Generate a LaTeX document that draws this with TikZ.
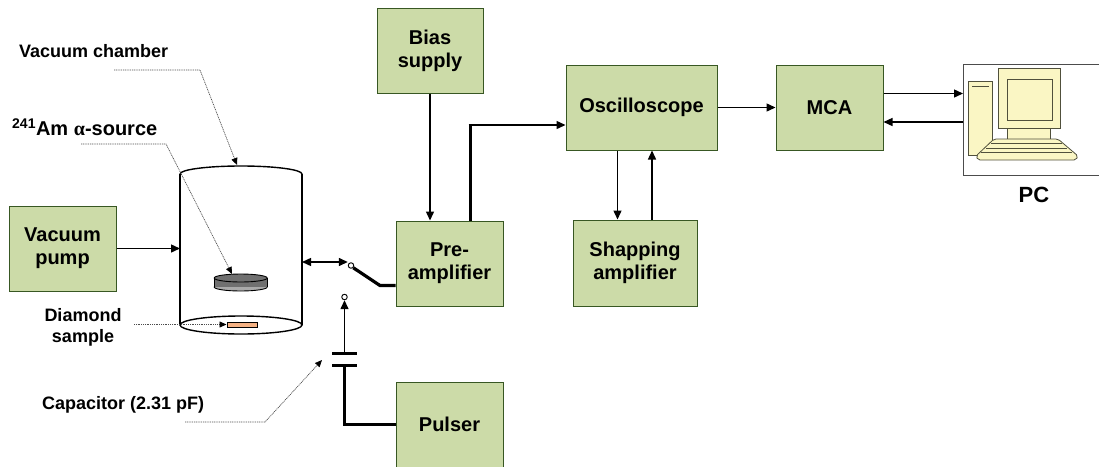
\documentclass[tikz,border=0pt]{standalone}
\usepackage{fontspec}
\setmainfont{Liberation Sans}
\newfontfamily\greekserif{Liberation Serif}
\usetikzlibrary{arrows.meta}

\definecolor{boxfill}{RGB}{204,219,168}
\definecolor{boxline}{RGB}{56,87,35}
\definecolor{pcfill}{RGB}{250,246,196}
\definecolor{pcline}{RGB}{80,80,60}
\definecolor{diskdark}{RGB}{112,112,112}
\definecolor{disklight}{RGB}{170,170,170}
\definecolor{samplefill}{RGB}{244,177,131}

\begin{document}
\begin{tikzpicture}[x=1pt,y=-1pt,
  box/.style={draw=boxline, fill=boxfill, line width=1pt, inner sep=0pt, align=center,
              font=\fontsize{20}{23}\selectfont\bfseries},
  lbl/.style={font=\fontsize{18}{21.6}\selectfont\bfseries, inner sep=0pt, align=center},
  wire/.style={line width=1.4pt},
  arr/.style={wire, -{Triangle[length=9pt,width=8pt]}},
  dblarr/.style={wire, {Triangle[length=9pt,width=8pt]}-{Triangle[length=9pt,width=8pt]}},
  heavy/.style={line width=3pt},
  leader/.style={draw=black!70, line width=0.7pt, dash pattern=on 1pt off 0.8pt,
                 -{Triangle[length=7pt,width=6pt,black]}},
  contact/.style={circle, draw, line width=0.9pt, fill=white, minimum size=5.5pt, inner sep=0pt},
  pcpart/.style={fill=pcfill, draw=pcline, line width=0.8pt},
]
\useasboundingbox (0,0) rectangle (1099,466);

% ---------- blocks ----------
\node[box, minimum width=107pt, minimum height=85pt] (pump)   at (62.5,248.5)  {Vacuum\\pump};
\node[box, minimum width=106pt, minimum height=85pt] (bias)   at (430,50.5)    {Bias\\supply};
\node[box, minimum width=107pt, minimum height=85pt] (pre)    at (449.5,263.5) {Pre-\\amplifier};
\node[box, minimum width=107pt, minimum height=85pt] (pulser) at (449.5,424.5) {Pulser};
\node[box, minimum width=151pt, minimum height=85pt] (osc)    at (641.5,107.5) {Oscilloscope};
\node[box, minimum width=107pt, minimum height=85pt] (mca)    at (829.5,107.5) {MCA};
\node[box, minimum width=124pt, minimum height=86pt] (shap)   at (635,263)     {Shapping\\amplifier};

% ---------- vacuum chamber ----------
\draw[line width=1.4pt] (180,174) arc[start angle=180, end angle=360, x radius=61, y radius=8];
\draw[line width=1.4pt] (180,174) -- (180,325) (302,174) -- (302,325);
\draw[line width=1.4pt] (241,325) ellipse[x radius=61, y radius=9];

% alpha source disk
\filldraw[fill=disklight, line width=0.9pt] (240.7,287) ellipse[x radius=26.5, y radius=4];
\fill[diskdark] (214.2,278) rectangle (267.2,287);
\draw[line width=0.9pt] (214.2,278) -- (214.2,287) (267.2,278) -- (267.2,287);
\filldraw[fill=diskdark, line width=0.9pt] (240.7,278) ellipse[x radius=26.5, y radius=4];
\coordinate (src) at (232,274);

% diamond sample
\node[draw, fill=samplefill, line width=1pt, minimum width=30pt, minimum height=5pt, inner sep=0pt]
  (sample) at (242,324.5) {};

% ---------- switch and capacitor ----------
\node[contact] (swA) at (351,265.5) {};
\node[contact] (swB) at (344.5,297) {};
\coordinate (lev) at (380,285.5);
\coordinate (capT) at (344.5,353.5);
\coordinate (capB) at (344.5,365.5);

% ---------- connectors ----------
\coordinate (chLin) at (180,247);
\draw[arr] (pump.east) -- (pump.east -| chLin);

\coordinate (chRout) at (302,262);
\draw[dblarr] (chRout) -- (chRout -| swA.west);
\draw[line width=3.2pt] (swA.south east) -- (lev) -- (lev -| pre.west);

\draw[arr] (capT) -- (capT |- swB.south);
\draw[line width=2.5pt] ([xshift=-12.5pt]capT) -- ([xshift=12.5pt]capT);
\draw[line width=2.5pt] ([xshift=-12.5pt]capB) -- ([xshift=12.5pt]capB);
\draw[heavy] (capB) |- (pulser.west);

\draw[arr] (bias.south) -- (bias.south |- pre.north);

\coordinate (bend) at (470,125);
\draw[heavy] (pre.north -| bend) -- ([yshift=1.5pt]bend);
\draw[arr] ([xshift=-1.5pt]bend) -- (bend -| osc.west);

\draw[arr] (osc.east) -- (mca.west);
\draw[arr] ([xshift=-24pt]osc.south) -- ([xshift=-24pt]osc.south |- shap.north);
\draw[arr] ([xshift=10.5pt]osc.south |- shap.north) -- ([xshift=10.5pt]osc.south);

% ---------- PC ----------
\node[draw=black!70, line width=1pt, minimum width=142pt, minimum height=111pt, inner sep=0pt,
      anchor=north west] (pcbox) at (963,64) {};
\filldraw[pcpart] (968,81) rectangle (992,155);
\draw[pcline, line width=1.5pt] (972,86.5) -- (989,86.5);
\filldraw[pcpart] (1007,126) rectangle (1050,140);
\filldraw[pcpart] (998,68) rectangle (1060,128);
\draw[pcline, line width=0.8pt] (1007,79) rectangle (1052,120);
\filldraw[pcpart, rounded corners=2pt] (994,139) -- (1058,139) -- (1078,156) -- (1076,160)
  -- (978,160) -- (976,156) -- cycle;
\draw[pcline, line width=0.6pt] (991,143.5) -- (1062,143.5) (986,148) -- (1067,148)
  (981,152.5) -- (1072,152.5);
\node[lbl, font=\fontsize{22}{25}\selectfont\bfseries] (pclabel) at (1034,195) {PC};

\draw[arr] ([yshift=14pt]mca.east) -- ([yshift=14pt]mca.east -| pcbox.west);
\draw[arr] ([yshift=-14.5pt]mca.east -| pcbox.west) -- ([yshift=-14.5pt]mca.east);

% ---------- labels and leaders ----------
\node[lbl, anchor=west] (lchamber) at (19,51) {Vacuum chamber};
\coordinate (lchamberA) at (114,70);
\coordinate (chtop) at (237,165);
\draw[leader] (lchamberA) -- (200,70) -- (chtop);

\node[lbl, anchor=west, font=\fontsize{20}{24}\selectfont\bfseries] (lsource) at (12,127)
  {\textsuperscript{241}Am {\greekserif α}-source};
\coordinate (lsourceA) at (81,144);
\draw[leader] (lsourceA) -- (166,144) -- (src);

\node[lbl] (lsample) at (83,327.5) {Diamond\\sample};
\coordinate (lsampleA) at (134,324.5);
\draw[leader] (lsampleA) -- (sample.west);

\node[lbl, anchor=west] (lcap) at (42,405) {Capacitor (2.31 pF)};
\coordinate (lcapA) at (185,422);
\coordinate (capmark) at (322,360);
\draw[leader] (lcapA) -- (265,422) -- (capmark);
\end{tikzpicture}
\end{document}
